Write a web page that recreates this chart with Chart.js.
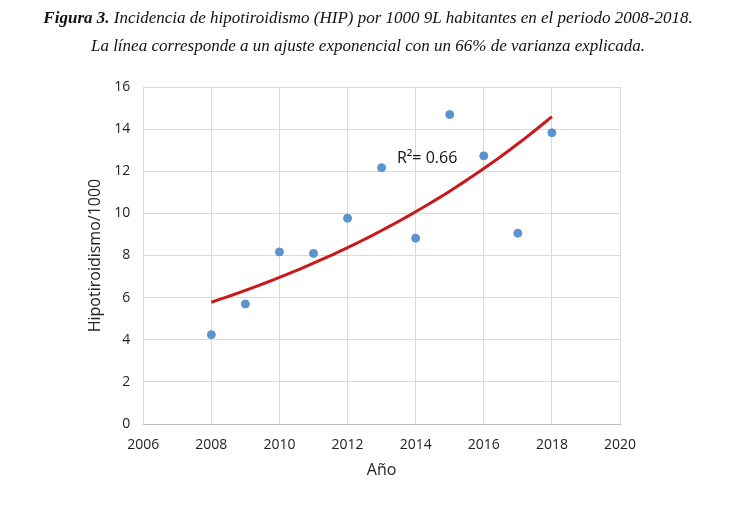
<!DOCTYPE html>
<html>
<head>
<meta charset="utf-8">
<script src="https://cdn.jsdelivr.net/npm/chart.js@4/dist/chart.umd.min.js"></script>
<style>
  html, body { margin: 0; padding: 0; background: #fff; }
  #wrap { position: relative; width: 736px; height: 506px; }
  #caption {
    position: absolute; left: 0; top: 4px; width: 736px; text-align: center;
    font-family: "Liberation Serif", "DejaVu Serif", serif; font-style: italic;
    font-size: 17px; line-height: 28px; color: #111;
  }
  #caption b { font-weight: bold; }
  canvas { position: absolute; left: 0; top: 0; }
</style>
</head>
<body>
<div id="wrap">
  <canvas id="chart" width="736" height="506"></canvas>
  <div id="caption"><b>Figura 3.</b> Incidencia de hipotiroidismo (HIP) por 1000 9L habitantes en el periodo 2008-2018.<br>La línea corresponde a un ajuste exponencial con un 66% de varianza explicada.</div>
</div>
<script>
// Data
const years = [2008, 2009, 2010, 2011, 2012, 2013, 2014, 2015, 2016, 2017, 2018];
const incidence = [4.24, 5.70, 8.17, 8.10, 9.77, 12.17, 8.82, 14.69, 12.73, 9.06, 13.83];
const xTicks = [2006, 2008, 2010, 2012, 2014, 2016, 2018, 2020];
const yTicks = [0, 2, 4, 6, 8, 10, 12, 14, 16];
const r2Label = 'R\u00B2= 0.66';

// Exponential fit y = a * exp(b * x), least squares on ln(y)
function expFit(xs, ys) {
  const n = xs.length;
  const mx = xs.reduce((s, v) => s + v, 0) / n;
  const ly = ys.map(v => Math.log(v));
  const my = ly.reduce((s, v) => s + v, 0) / n;
  let sxy = 0, sxx = 0;
  for (let i = 0; i < n; i++) {
    sxy += (xs[i] - mx) * (ly[i] - my);
    sxx += (xs[i] - mx) * (xs[i] - mx);
  }
  const b = sxy / sxx;
  return x => Math.exp(my + b * (x - mx));
}

const fit = expFit(years, incidence);
const trend = [];
for (let i = 0; i <= 50; i++) {
  const x = years[0] + (years[years.length - 1] - years[0]) * i / 50;
  trend.push({ x: x, y: fit(x) });
}

// Draws the R² label at data coordinates
const r2Plugin = {
  id: 'r2',
  afterDatasetsDraw(chart) {
    const { ctx, scales } = chart;
    ctx.save();
    ctx.font = '16px "Open Sans", sans-serif';
    ctx.fillStyle = '#111';
    ctx.textBaseline = 'middle';
    ctx.fillText(r2Label, scales.x.getPixelForValue(2013.45), scales.y.getPixelForValue(12.6));
    ctx.restore();
  }
};

const tickFont = { family: '"Open Sans", sans-serif', size: 14 };

new Chart(document.getElementById('chart'), {
  type: 'scatter',
  data: {
    datasets: [
      {
        label: 'Tendencia',
        data: trend,
        type: 'line',
        borderColor: '#c81a1a',
        borderWidth: 3,
        pointRadius: 0,
        fill: false,
        tension: 0
      },
      {
        label: 'HIP/1000',
        data: years.map((y, i) => ({ x: y, y: incidence[i] })),
        backgroundColor: '#5b93cc',
        borderColor: '#5b93cc',
        pointRadius: 4,
        pointHoverRadius: 4
      }
    ]
  },
  options: {
    responsive: false,
    animation: false,
    layout: { padding: { left: 86, right: 116, top: 87, bottom: 26 } },
    plugins: { legend: { display: false }, tooltip: { enabled: false } },
    scales: {
      x: {
        type: 'linear',
        min: 2006, max: 2020,
        afterBuildTicks: axis => { axis.ticks = xTicks.map(v => ({ value: v })); },
        ticks: { font: tickFont, color: '#222', padding: 13, callback: v => String(v) },
        grid: { color: '#d9d9d9', drawTicks: false },
        border: { color: '#bfbfbf' },
        title: { display: true, text: 'Año', font: { family: '"Open Sans", sans-serif', size: 16 }, color: '#222', padding: { top: -6, bottom: 0 } }
      },
      y: {
        min: 0, max: 16,
        afterBuildTicks: axis => { axis.ticks = yTicks.map(v => ({ value: v })); },
        ticks: { font: tickFont, color: '#222', padding: 13 },
        grid: { color: '#d9d9d9', drawTicks: false },
        border: { display: false },
        title: { display: true, text: 'Hipotiroidismo/1000', font: { family: '"Open Sans", sans-serif', size: 16 }, color: '#222', padding: { top: 0, bottom: -4 } }
      }
    }
  },
  plugins: [r2Plugin]
});
</script>
</body>
</html>
